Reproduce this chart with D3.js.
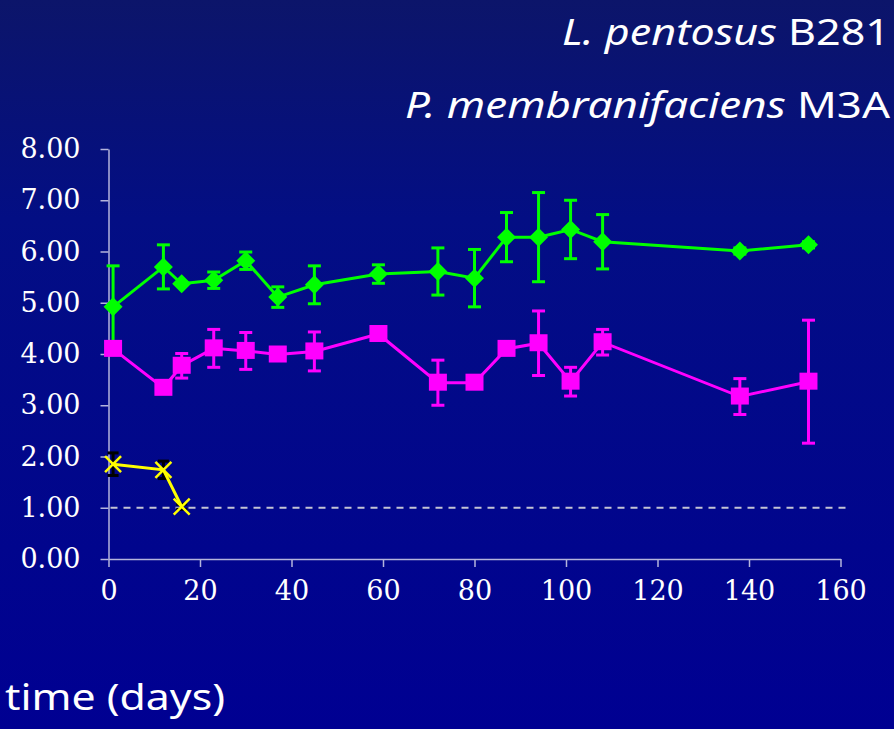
<!DOCTYPE html>
<html>
<head>
<meta charset="utf-8">
<script src="https://cdn.jsdelivr.net/npm/d3@7"></script>
<style>
  body { margin: 0; background: #000090; }
  svg { display: block; }
</style>
</head>
<body>
<div id="chart-area"></div>
<script>
// days sampled
var days = [1, 12, 16, 23, 30, 37, 45, 59, 72, 80, 87, 94, 101, 108, 138, 153];
// L. pentosus B281 (green diamonds)
var lactoValues = [4.92, 5.70, 5.37, 5.44, 5.82, 5.11, 5.35, 5.56, 5.61, 5.48, 6.28, 6.28, 6.43, 6.19, 6.01, 6.13];
var lactoErr = [0.80, 0.43, 0, 0.16, 0.17, 0.20, 0.37, 0.18, 0.46, 0.56, 0.48, 0.87, 0.57, 0.53, 0.06, 0.06];
// P. membranifaciens M3A (magenta squares)
var yeastValues = [4.10, 3.34, 3.77, 4.11, 4.06, 3.99, 4.05, 4.39, 3.44, 3.44, 4.10, 4.21, 3.46, 4.23, 3.17, 3.46];
var yeastErr = [0, 0, 0.24, 0.37, 0.36, 0, 0.38, 0, 0.44, 0.08, 0, 0.63, 0.28, 0.25, 0.35, 1.20];
// third series (yellow crosses)
var otherDays = [1, 12, 16];
var otherValues = [1.85, 1.74, 1.02];
var otherErr = [0.22, 0.17, 0.05];

var xTicks = [0, 20, 40, 60, 80, 100, 120, 140, 160];
var yTicks = [0, 1, 2, 3, 4, 5, 6, 7, 8];
var limitLine = 1.0;

var width = 894, height = 729;
var svg = d3.select('#chart-area').append('svg')
  .attr('width', width)
  .attr('height', height);

var defs = svg.append('defs');
var grad = defs.append('linearGradient')
  .attr('id', 'bg')
  .attr('x1', 0).attr('y1', 0).attr('x2', 0).attr('y2', 1);
grad.append('stop').attr('offset', '0%').attr('stop-color', '#0c156a');
grad.append('stop').attr('offset', '30%').attr('stop-color', '#030e84');
grad.append('stop').attr('offset', '100%').attr('stop-color', '#000092');

svg.append('rect')
  .attr('width', width)
  .attr('height', height)
  .attr('fill', 'url(#bg)');

var x = d3.scaleLinear().domain([0, 160]).range([108.5, 840.5]);
var y = d3.scaleLinear().domain([0, 8]).range([559, 149]);

// axes
svg.append('g')
  .attr('transform', 'translate(' + x(0) + ',0)')
  .call(d3.axisLeft(y).tickValues(yTicks).tickSize(8).tickSizeOuter(0).tickPadding(20)
    .tickFormat(d3.format('.2f')));

svg.append('g')
  .attr('transform', 'translate(0,' + y(0) + ')')
  .call(d3.axisBottom(x).tickValues(xTicks).tickSize(8).tickSizeOuter(0).tickPadding(14));

svg.selectAll('.domain, .tick line')
  .attr('stroke', '#b4b4dc')
  .attr('stroke-width', 1.5);

svg.selectAll('.tick text')
  .attr('fill', '#ffffff')
  .style('font-family', "'DejaVu Serif', 'Liberation Serif', serif")
  .style('font-size', '27px');

// dashed detection limit
svg.append('line')
  .attr('x1', x(0) + 2)
  .attr('x2', 850)
  .attr('y1', y(limitLine))
  .attr('y2', y(limitLine))
  .attr('stroke', '#c4c4d4')
  .attr('stroke-width', 2)
  .attr('stroke-dasharray', '7,6');

function drawSeries(xs, vals, errs, color, errColor, capW, shape) {
  var pts = xs.map(function(d, i) {
    return { day: d, v: vals[i], e: errs[i] };
  });
  var g = svg.append('g');

  var bars = g.selectAll('.err')
    .data(pts.filter(function(d) { return d.e > 0; }))
    .enter().append('g');
  bars.append('line')
    .attr('x1', function(d) { return x(d.day); })
    .attr('x2', function(d) { return x(d.day); })
    .attr('y1', function(d) { return y(d.v + d.e); })
    .attr('y2', function(d) { return y(d.v - d.e); })
    .attr('stroke', errColor)
    .attr('stroke-width', 3);
  [1, -1].forEach(function(s) {
    bars.append('line')
      .attr('x1', function(d) { return x(d.day) - capW / 2; })
      .attr('x2', function(d) { return x(d.day) + capW / 2; })
      .attr('y1', function(d) { return y(d.v + s * d.e); })
      .attr('y2', function(d) { return y(d.v + s * d.e); })
      .attr('stroke', errColor)
      .attr('stroke-width', 3);
  });

  var line = d3.line()
    .x(function(d) { return x(d.day); })
    .y(function(d) { return y(d.v); });
  g.append('path')
    .datum(pts)
    .attr('d', line)
    .attr('fill', 'none')
    .attr('stroke', color)
    .attr('stroke-width', 3);

  var marks = g.selectAll('.mark')
    .data(pts)
    .enter().append('g')
    .attr('transform', function(d) {
      return 'translate(' + x(d.day) + ',' + y(d.v) + ')';
    });

  if (shape === 'diamond') {
    marks.append('path')
      .attr('d', 'M0,-9.5L9.5,0L0,9.5L-9.5,0Z')
      .attr('fill', color);
  } else if (shape === 'square') {
    marks.append('rect')
      .attr('x', -9).attr('y', -9)
      .attr('width', 18).attr('height', 17)
      .attr('fill', color);
  } else {
    marks.append('path')
      .attr('d', 'M-8,-8L8,8M-8,8L8,-8')
      .attr('stroke', color)
      .attr('stroke-width', 2.5);
  }
}

drawSeries(days, lactoValues, lactoErr, '#00ff00', '#00ff00', 13, 'diamond');
drawSeries(days, yeastValues, yeastErr, '#ff00ff', '#ff00ff', 13, 'square');
drawSeries(otherDays, otherValues, otherErr, '#ffff00', '#000000', 11, 'cross');

// titles
var titleFont = "'Comic Sans MS', 'Noto Sans', sans-serif";
var t1 = svg.append('text')
  .attr('x', 890).attr('y', 45)
  .attr('text-anchor', 'end')
  .attr('fill', '#ffffff')
  .attr('textLength', 328)
  .attr('lengthAdjust', 'spacingAndGlyphs')
  .style('font-family', titleFont)
  .style('font-size', '36px');
t1.append('tspan').style('font-style', 'italic').text('L. pentosus');
t1.append('tspan').text(' B281');

var t2 = svg.append('text')
  .attr('x', 890).attr('y', 118)
  .attr('text-anchor', 'end')
  .attr('fill', '#ffffff')
  .attr('textLength', 485)
  .attr('lengthAdjust', 'spacingAndGlyphs')
  .style('font-family', titleFont)
  .style('font-size', '36px');
t2.append('tspan').style('font-style', 'italic').text('P. membranifaciens');
t2.append('tspan').text(' M3A');

svg.append('text')
  .attr('x', 5).attr('y', 710)
  .attr('fill', '#ffffff')
  .attr('textLength', 220)
  .attr('lengthAdjust', 'spacingAndGlyphs')
  .style('font-family', titleFont)
  .style('font-size', '36px')
  .text('time (days)');
</script>
</body>
</html>
